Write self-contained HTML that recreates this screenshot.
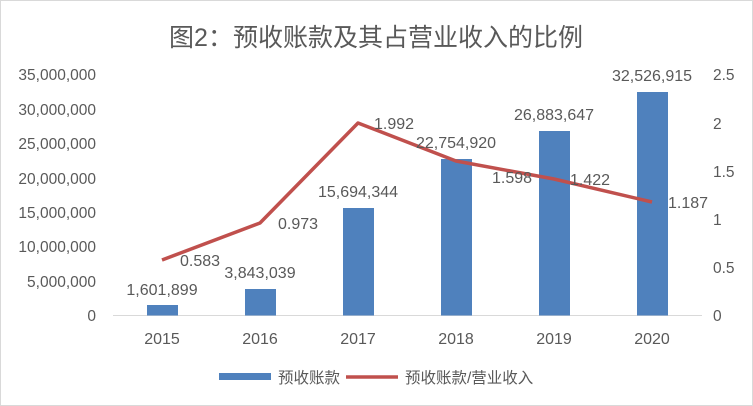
<!DOCTYPE html>
<html><head><meta charset="utf-8"><style>
body{margin:0;background:#fff}
svg{display:block}
text{font-family:"Liberation Sans","Noto Sans CJK SC",sans-serif;fill:#595959}
</style></head><body>
<svg width="753" height="406" viewBox="0 0 753 406">
<rect x="0.5" y="0.5" width="752" height="405" fill="#fff" stroke="#d9d9d9"/>
<text x="376" y="46" font-size="25" text-anchor="middle">图2：预收账款及其占营业收入的比例</text>
<g font-size="15.5" text-anchor="end">
<text x="96" y="321">0</text>
<text x="96" y="287">5,000,000</text>
<text x="96" y="252">10,000,000</text>
<text x="96" y="218">15,000,000</text>
<text x="96" y="184">20,000,000</text>
<text x="96" y="149">25,000,000</text>
<text x="96" y="115">30,000,000</text>
<text x="96" y="80">35,000,000</text>
</g>
<g font-size="15.5" text-anchor="start">
<text x="713" y="321">0</text>
<text x="713" y="273">0.5</text>
<text x="713" y="225">1</text>
<text x="713" y="177">1.5</text>
<text x="713" y="129">2</text>
<text x="713" y="80">2.5</text>
</g>
<line x1="113" y1="315.5" x2="702" y2="315.5" stroke="#d9d9d9"/>
<g fill="#4f81bd">
<rect x="147" y="305" width="31" height="10.5"/>
<rect x="245" y="289" width="31" height="26.5"/>
<rect x="343" y="208" width="31" height="107.5"/>
<rect x="441" y="159" width="31" height="156.5"/>
<rect x="539" y="131" width="31" height="184.5"/>
<rect x="637" y="92" width="31" height="223.5"/>
</g>
<polyline points="162,260 260,223 358,123 456,161 554,179 652,202" fill="none" stroke="#c0504d" stroke-width="3.5" stroke-linejoin="round"/>
<g font-size="16" text-anchor="middle">
<text x="162" y="344">2015</text><text x="260" y="344">2016</text><text x="358" y="344">2017</text>
<text x="456" y="344">2018</text><text x="554" y="344">2019</text><text x="652" y="344">2020</text>
<text x="162" y="295">1,601,899</text>
<text x="260" y="278">3,843,039</text>
<text x="358" y="197">15,694,344</text>
<text x="456" y="148">22,754,920</text>
<text x="554" y="120">26,883,647</text>
<text x="652" y="81">32,526,915</text>
<text x="200" y="266">0.583</text>
<text x="298" y="229">0.973</text>
<text x="394" y="129">1.992</text>
<text x="512" y="183">1.598</text>
<text x="590" y="185">1.422</text>
<text x="688" y="208">1.187</text>
</g>
<rect x="219" y="373" width="52" height="7" fill="#4f81bd"/>
<text x="278" y="383" font-size="15.5">预收账款</text>
<line x1="346" y1="377" x2="398" y2="377" stroke="#c0504d" stroke-width="3.5"/>
<text x="405" y="383" font-size="15.5">预收账款/营业收入</text>
</svg>
</body></html>
